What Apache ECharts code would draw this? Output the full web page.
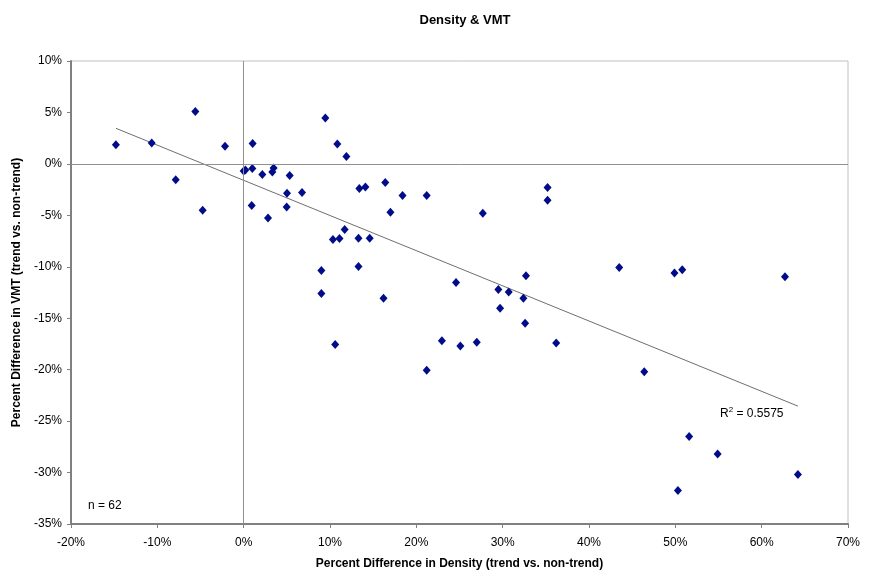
<!DOCTYPE html>
<html>
<head>
<meta charset="utf-8">
<script src="https://cdn.jsdelivr.net/npm/echarts@6/dist/echarts.min.js"></script>
<style>
    html, body { margin: 0; padding: 0; background: #fff; }
    #chart { width: 869px; height: 571px; }
</style>
</head>
<body>
<div id="chart"></div>
<script>
    // percent difference in density (x) and in VMT (y), one entry per area
    var densityDiff = [
        -14.8, -10.65, -7.87, -5.6, -4.75, -2.16, 0.0, 0.2, 1.04, 1.0,
        0.93, 2.16, 2.82, 3.32, 3.47, 5.02, 4.98, 5.33, 9.46, 10.85,
        11.9, 6.76, 13.4, 14.1, 16.4, 18.4, 21.2, 17.0, 27.7, 35.2,
        35.2, 11.7, 10.34, 11.1, 13.3, 14.6, 9.0, 13.3, 24.6, 29.5,
        32.7, 30.7, 43.5, 49.9, 50.8, 62.7, 9.0, 16.2, 10.6, 21.2,
        22.96, 25.1, 27.0, 32.4, 29.7, 32.6, 36.2, 46.4, 51.6, 54.9,
        50.3, 64.2
    ];
    var vmtDiff = [
        1.85, 2.04, -1.53, 5.08, -4.5, 1.71, -0.68, -0.6, 1.97, -0.46,
        -4.05, -1.04, -5.25, -0.78, -0.39, -2.85, -4.18, -1.14, 4.47, 1.94,
        0.71, -2.79, -2.4, -2.24, -1.82, -3.08, -3.08, -4.7, -4.8, -2.3,
        -3.53, -6.38, -7.36, -7.26, -7.23, -7.23, -10.37, -9.98, -11.54, -12.2,
        -10.88, -12.45, -10.08, -10.6, -10.3, -10.98, -12.6, -13.06, -17.56, -20.06,
        -17.2, -17.7, -17.33, -13.06, -14.03, -15.5, -17.4, -20.2, -26.5, -28.2,
        -31.75, -30.2
    ];
    var xTicks = [-20, 70, 10];
    var yTicks = [-35, 10, 5];
    var rSquared = '0.5575';

    var points = densityDiff.map(function (x, i) { return [x, vmtDiff[i]]; });

    // linear trend line (least squares)
    var n = points.length, sx = 0, sy = 0, sxx = 0, sxy = 0;
    points.forEach(function (p) {
        sx += p[0]; sy += p[1]; sxx += p[0] * p[0]; sxy += p[0] * p[1];
    });
    var slope = (n * sxy - sx * sy) / (n * sxx - sx * sx);
    var icpt = (sy - slope * sx) / n;
    var xMin = Math.min.apply(null, densityDiff);
    var xMax = Math.max.apply(null, densityDiff);
    var trend = [[xMin, icpt + slope * xMin], [xMax, icpt + slope * xMax]];

    var font = 'Liberation Sans, Arial, sans-serif';
    var chart = echarts.init(document.getElementById('chart'));
    var option = {
        backgroundColor: '#fff',
        animation: false,
        title: {
            text: 'Density & VMT',
            left: 460, top: 9,
            textAlign: 'center',
            textStyle: { fontFamily: font, fontSize: 13, fontWeight: 'bold', color: '#000' }
        },
        grid: {
            left: 71, right: 21, top: 61, bottom: 47,
            outerBoundsMode: 'none',
            show: true, borderColor: '#c0c0c0', borderWidth: 1
        },
        xAxis: {
            type: 'value',
            min: xTicks[0], max: xTicks[1], interval: xTicks[2],
            name: 'Percent Difference in Density (trend vs. non-trend)',
            nameLocation: 'middle', nameGap: 34,
            nameTextStyle: { fontFamily: font, fontSize: 12, fontWeight: 'bold', color: '#000' },
            axisLine: { onZero: false, lineStyle: { color: '#808080', width: 2 } },
            axisTick: { show: true, length: 4, lineStyle: { color: '#808080' } },
            axisLabel: { formatter: '{value}%', fontFamily: font, fontSize: 12, color: '#000', margin: 13 },
            splitLine: { show: false }
        },
        yAxis: {
            type: 'value',
            min: yTicks[0], max: yTicks[1], interval: yTicks[2],
            name: 'Percent Difference in VMT (trend vs. non-trend)',
            nameLocation: 'middle', nameGap: 38,
            nameTextStyle: { fontFamily: font, fontSize: 12, fontWeight: 'bold', color: '#000' },
            axisLine: { onZero: false, lineStyle: { color: '#808080', width: 2 } },
            axisTick: { show: true, length: 4, lineStyle: { color: '#808080' } },
            axisLabel: { formatter: '{value}%', fontFamily: font, fontSize: 12, color: '#000', margin: 9 },
            splitLine: { show: false }
        },
        graphic: [
            {
                type: 'text', left: 88, top: 500,
                style: { text: 'n = 62', font: '12px ' + font, fill: '#000' }
            },
            {
                type: 'text', left: 720, top: 406,
                style: {
                    text: '{b|R}{s|2}{b| = ' + rSquared + '}',
                    rich: {
                        b: { fontFamily: font, fontSize: 12, color: '#000', verticalAlign: 'bottom' },
                        s: { fontFamily: font, fontSize: 8, color: '#000', verticalAlign: 'top', padding: [0, 0, 6, 0] }
                    }
                }
            }
        ],
        series: [
            {
                type: 'line',
                data: trend,
                symbol: 'none',
                silent: true,
                lineStyle: { color: '#6f6f6f', width: 1 },
                markLine: {
                    silent: true,
                    symbol: 'none',
                    label: { show: false },
                    lineStyle: { color: '#909090', width: 1, type: 'solid' },
                    data: [{ xAxis: 0 }, { yAxis: 0 }]
                },
                z: 1
            },
            {
                type: 'scatter',
                data: points,
                symbol: 'diamond',
                symbolSize: [8, 9],
                itemStyle: { color: '#000c8a', opacity: 1 },
                z: 3
            }
        ]
    };
    chart.setOption(option);
</script>
</body>
</html>
